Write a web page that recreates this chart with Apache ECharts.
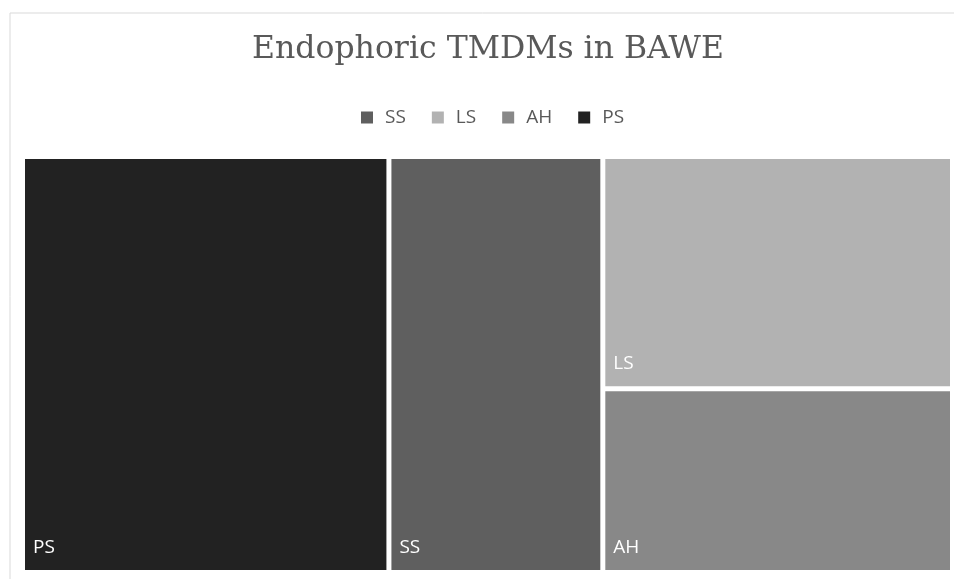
<!DOCTYPE html>
<html>
<head>
<meta charset="utf-8">
<script src="https://cdn.jsdelivr.net/npm/echarts@6/dist/echarts.min.js"></script>
<style>
  html, body { margin: 0; padding: 0; background: #fff; }
  #chart { width: 954px; height: 579px; }
</style>
</head>
<body>
<div id="chart"></div>
<script>
const categories = ['PS', 'SS', 'LS', 'AH']
const values = [39.4, 23.0, 21.0, 16.6]
const colors = ['#222222', '#5f5f5f', '#b2b2b2', '#888888']
const legendOrder = ['SS', 'LS', 'AH', 'PS']

const items = categories.map((name, i) => ({
  name: name,
  value: values[i],
  itemStyle: { color: colors[i] }
}))

const chart = echarts.init(document.getElementById('chart'))
chart.setOption({
  backgroundColor: '#ffffff',
  animation: false,
  graphic: [{
    type: 'rect',
    shape: { x: 10, y: 13, width: 960, height: 580 },
    style: { fill: 'none', stroke: '#d9d9d9', lineWidth: 1 },
    silent: true
  }],
  title: {
    text: 'Endophoric TMDMs in BAWE',
    left: 483,
    textAlign: 'center',
    top: 29,
    textStyle: {
      fontFamily: 'DejaVu Serif',
      fontWeight: 'normal',
      fontSize: 31.5,
      color: '#595959'
    }
  },
  legend: {
    data: legendOrder,
    top: 103,
    left: 356,
    icon: 'rect',
    itemWidth: 12,
    itemHeight: 12,
    itemGap: 26,
    textStyle: {
      fontFamily: 'Open Sans',
      fontSize: 19,
      color: '#595959',
      padding: [0, 0, 0, 7]
    }
  },
  series: [{
    // only feeds the legend; the treemap has no legend of its own
    type: 'pie',
    radius: 0,
    silent: true,
    label: { show: false },
    labelLine: { show: false },
    data: items
  }, {
    type: 'treemap',
    left: 25,
    top: 159,
    width: 925,
    height: 411,
    roam: false,
    nodeClick: false,
    squareRatio: 0.7,
    breadcrumb: { show: false },
    itemStyle: {
      gapWidth: 5,
      borderWidth: 0,
      borderColor: '#ffffff'
    },
    label: {
      show: true,
      position: 'insideBottomLeft',
      distance: 5,
      offset: [-2, -3],
      fontFamily: 'Open Sans',
      fontSize: 19,
      color: '#ffffff'
    },
    data: items
  }]
})
</script>
</body>
</html>
